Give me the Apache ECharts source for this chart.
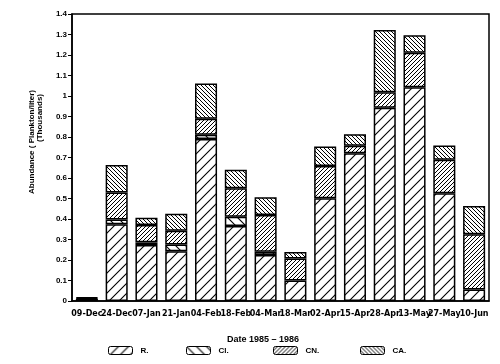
<!DOCTYPE html>
<html><head><meta charset="utf-8">
<script src="https://cdn.jsdelivr.net/npm/echarts@6/dist/echarts.min.js"></script>
<style>html,body{margin:0;padding:0;background:#fff}#c{width:500px;height:364px}</style>
</head><body><div id="c"></div>
<script>
const dates = ["09-Dec","24-Dec","07-Jan","21-Jan","04-Feb","18-Feb","04-Mar","18-Mar","02-Apr","15-Apr","28-Apr","13-May","27-May","10-Jun"];
const seriesNames = ["R.","Cl.","CN.","CA."];
const R  = [0.010,0.374,0.273,0.243,0.790,0.366,0.224,0.100,0.501,0.721,0.943,1.043,0.526,0.056];
const Cl = [0.004,0.024,0.013,0.033,0.021,0.045,0.016,0,0,0,0,0,0,0];
const CN = [0.004,0.131,0.085,0.067,0.078,0.139,0.179,0.107,0.158,0.036,0.075,0.168,0.163,0.270];
const CA = [0,0.134,0.035,0.083,0.172,0.090,0.087,0.032,0.095,0.057,0.304,0.085,0.070,0.138];
const xTitle = "Date 1985 – 1986";
const yTitle1 = "Abundance ( Plankton/liter)";
const yTitle2 = "(Thousands)";

function hatch(s, dir, lw) {
  const c = document.createElement('canvas'); c.width = s; c.height = s;
  const g = c.getContext('2d');
  g.fillStyle = '#fff'; g.fillRect(0,0,s,s);
  g.strokeStyle = '#000'; g.lineWidth = lw; g.beginPath();
  if (dir > 0) {
    g.moveTo(0,s); g.lineTo(s,0);
    g.moveTo(-2,2); g.lineTo(2,-2);
    g.moveTo(s-2,s+2); g.lineTo(s+2,s-2);
  } else {
    g.moveTo(0,0); g.lineTo(s,s);
    g.moveTo(-2,s-2); g.lineTo(2,s+2);
    g.moveTo(s-2,-2); g.lineTo(s+2,2);
  }
  g.stroke();
  return {image: c, repeat: 'repeat'};
}
const fills = [hatch(10,1,1.1), hatch(10,-1,1.1), hatch(4,1,1), hatch(4,-1,1)];
const vals = [R, Cl, CN, CA];

const chart = echarts.init(document.getElementById('c'), null, {renderer:'canvas'});
const legendX = [103, 181, 268, 355];
chart.setOption({
  animation: false,
  backgroundColor: '#fff',
  title: {text: xTitle, left: 222, top: 330, textStyle: {fontFamily: 'Liberation Sans', fontWeight: 'bold', fontSize: 9, color: '#000'}},
  legend: seriesNames.map((n, i) => ({
    data: [n], left: legendX[i], top: 341, itemWidth: 24, itemHeight: 8, itemGap: 0,
    textStyle: {fontFamily: 'Liberation Sans', fontWeight: 'bold', fontSize: 8, color: '#000', padding: [0,0,0,3]},
    itemStyle: {borderColor: '#000', borderWidth: 1}
  })),
  grid: {left: 72, right: 11, top: 14, bottom: 63, show: true, borderColor: '#000', borderWidth: 1.5, backgroundColor: 'transparent'},
  xAxis: {
    type: 'category', data: dates,
    axisLine: {lineStyle: {color: '#000', width: 1.5}},
    axisTick: {alignWithLabel: true, length: 5, lineStyle: {color: '#000'}},
    axisLabel: {interval: 0, margin: 9, color: '#000', fontFamily: 'DejaVu Sans', fontWeight: 'bold', fontSize: 8}
  },
  yAxis: {
    type: 'value', min: 0, max: 1.4, interval: 0.1,
    splitLine: {show: false},
    axisLine: {show: true, lineStyle: {color: '#000', width: 1.5}},
    axisTick: {show: true, length: 4, lineStyle: {color: '#000'}},
    axisLabel: {margin: 5, color: '#000', fontFamily: 'Liberation Sans', fontWeight: 'bold', fontSize: 8,
      formatter: v => String(+v.toFixed(1))}
  },
  graphic: [
    {type: 'text', x: 32, y: 142, rotation: Math.PI/2,
     style: {text: yTitle1, fill: '#000', font: 'bold 8px "Liberation Sans"', align: 'center', verticalAlign: 'middle'}},
    {type: 'text', x: 40, y: 118, rotation: Math.PI/2,
     style: {text: yTitle2, fill: '#000', font: 'bold 8px "Liberation Sans"', align: 'center', verticalAlign: 'middle'}}
  ],
  series: seriesNames.map((n, i) => ({
    name: n, type: 'bar', stack: 'total', barWidth: '74%',
    data: vals[i].map(v => v === 0 ? '-' : v),
    itemStyle: {color: fills[i], borderColor: '#000', borderWidth: 1.5}
  }))
});
</script></body></html>
